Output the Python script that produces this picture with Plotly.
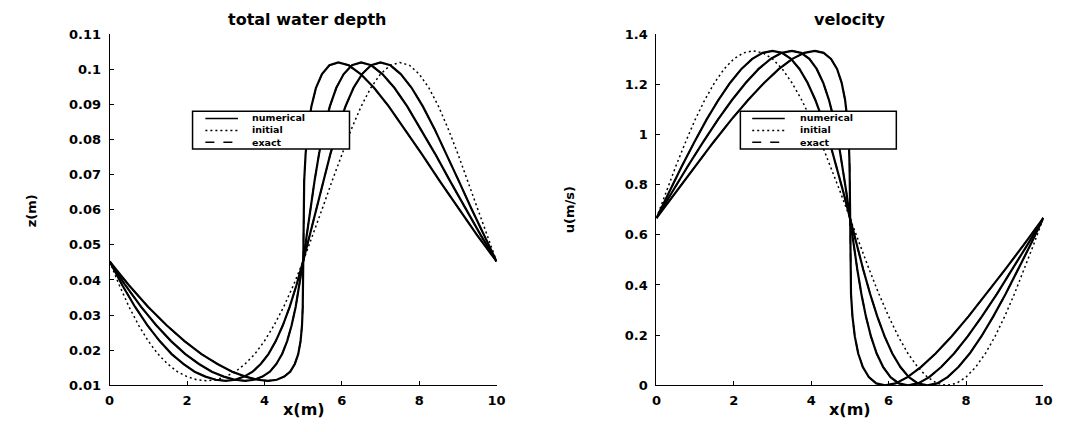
import plotly.graph_objects as go

# Positions of the sample points at t = 0 (also the x of the initial profile)
x_initial = [0.0, 0.25, 0.5, 0.75, 1.0, 1.25, 1.5, 1.75, 2.0, 2.25, 2.5, 2.75, 3.0, 3.25,
             3.5, 3.75, 4.0, 4.25, 4.5, 4.75, 5.0, 5.25, 5.5, 5.75, 6.0, 6.25, 6.5, 6.75,
             7.0, 7.25, 7.5, 7.75, 8.0, 8.25, 8.5, 8.75, 9.0, 9.25, 9.5, 9.75, 10.0]

# Where the same points sit at the three output times
x_t1 = [0.0, 0.328, 0.655, 0.977, 1.294, 1.604, 1.905, 2.196, 2.476, 2.744, 3.0, 3.244,
        3.476, 3.696, 3.905, 4.104, 4.294, 4.477, 4.655, 4.828, 5.0, 5.172, 5.345, 5.523,
        5.706, 5.896, 6.095, 6.304, 6.524, 6.756, 7.0, 7.256, 7.524, 7.804, 8.095, 8.396,
        8.706, 9.023, 9.345, 9.672, 10.0]
x_t2 = [0.0, 0.406, 0.809, 1.204, 1.588, 1.957, 2.309, 2.641, 2.951, 3.238, 3.5, 3.738,
        3.951, 4.141, 4.309, 4.457, 4.588, 4.704, 4.809, 4.906, 5.0, 5.094, 5.191, 5.296,
        5.412, 5.543, 5.691, 5.859, 6.049, 6.262, 6.5, 6.762, 7.049, 7.359, 7.691, 8.043,
        8.412, 8.796, 9.191, 9.594, 10.0]
x_t3 = [0.0, 0.499, 0.991, 1.472, 1.935, 2.374, 2.786, 3.167, 3.512, 3.820, 4.09, 4.320,
        4.512, 4.667, 4.786, 4.874, 4.935, 4.972, 4.991, 4.999, 5.0, 5.001, 5.009, 5.028,
        5.065, 5.126, 5.214, 5.333, 5.488, 5.680, 5.91, 6.180, 6.488, 6.833, 7.214, 7.626,
        8.065, 8.528, 9.009, 9.501, 10.0]

# Total water depth z (m) carried by each point
depth = [0.0453, 0.0385, 0.0324, 0.0271, 0.0226, 0.0189, 0.0161, 0.0139, 0.0125, 0.0116,
         0.0113, 0.0116, 0.0125, 0.0139, 0.0161, 0.0189, 0.0226, 0.0271, 0.0324, 0.0385,
         0.0453, 0.0527, 0.0604, 0.0682, 0.0759, 0.0830, 0.0894, 0.0947, 0.0986, 0.1011,
         0.1019, 0.1011, 0.0986, 0.0947, 0.0894, 0.0830, 0.0759, 0.0682, 0.0604, 0.0527,
         0.0453]

# Velocity u (m/s) carried by each point
velocity = [0.667, 0.771, 0.873, 0.969, 1.059, 1.138, 1.206, 1.261, 1.301, 1.325, 1.333,
            1.325, 1.301, 1.261, 1.206, 1.138, 1.059, 0.969, 0.873, 0.771, 0.667, 0.562,
            0.461, 0.364, 0.275, 0.195, 0.127, 0.073, 0.033, 0.008, 0.000, 0.008, 0.033,
            0.073, 0.127, 0.195, 0.275, 0.364, 0.461, 0.562, 0.667]

x_ticks = [0, 2, 4, 6, 8, 10]
z_ticks = [0.01, 0.02, 0.03, 0.04, 0.05, 0.06, 0.07, 0.08, 0.09, 0.1, 0.11]
z_labels = ["0.01", "0.02", "0.03", "0.04", "0.05", "0.06", "0.07", "0.08", "0.09",
            "0.1", "0.11"]
u_ticks = [0, 0.2, 0.4, 0.6, 0.8, 1, 1.2, 1.4]
u_labels = ["0", "0.2", "0.4", "0.6", "0.8", "1", "1.2", "1.4"]

legend_labels = ["numerical", "initial", "exact"]
legend_dashes = ["solid", "2px,3px", "dash"]

W, H = 1083, 432
FONT = "DejaVu Sans"
BLACK = "black"


def px(x):
    return x / W


def py(y):
    return 1 - y / H


fig = go.Figure()

for xa, ya, values in (("x", "y", depth), ("x2", "y2", velocity)):
    for xs in (x_t1, x_t2, x_t3):
        fig.add_trace(go.Scatter(x=xs, y=values, xaxis=xa, yaxis=ya, mode="lines",
                                 name="exact", line=dict(color=BLACK, width=1.5, dash="dash")))
    fig.add_trace(go.Scatter(x=x_initial, y=values, xaxis=xa, yaxis=ya, mode="lines",
                             name="initial", line=dict(color=BLACK, width=1.5, dash="2px,3px")))
    for xs in (x_t1, x_t2, x_t3):
        fig.add_trace(go.Scatter(x=xs, y=values, xaxis=xa, yaxis=ya, mode="lines",
                                 name="numerical", line=dict(color=BLACK, width=2.2)))

axis_common = dict(showline=True, linecolor=BLACK, linewidth=1, ticks="inside", ticklen=4,
                   tickcolor=BLACK, showgrid=False, zeroline=False, mirror=False,
                   tickfont=dict(family=FONT, size=13, color=BLACK, weight="bold"))

y_dom = [py(392), py(28)]
fig.update_layout(
    width=W, height=H,
    margin=dict(l=0, r=0, t=0, b=0),
    paper_bgcolor="white", plot_bgcolor="white",
    showlegend=False,
    xaxis=dict(domain=[px(106), px(498)], range=[0, 10], tickvals=x_ticks,
               anchor="y", ticklabelstandoff=3, **axis_common),
    yaxis=dict(domain=y_dom, range=[0.01, 0.11], tickvals=z_ticks, ticktext=z_labels,
               anchor="x", ticklabelstandoff=5, **axis_common),
    xaxis2=dict(domain=[px(660), px(1052)], range=[0, 10], tickvals=x_ticks,
                anchor="y2", ticklabelstandoff=3, **axis_common),
    yaxis2=dict(domain=y_dom, range=[0, 1.4], tickvals=u_ticks, ticktext=u_labels,
                anchor="x2", ticklabelstandoff=5, **axis_common),
)

text_font = dict(family=FONT, size=16, color=BLACK, weight="bold")
label_font = dict(family=FONT, size=16, color=BLACK, weight="bold")
side_font = dict(family=FONT, size=13, color=BLACK, weight="bold")

annotations = [
    dict(text="total water depth", x=px(306), y=py(13), font=text_font),
    dict(text="velocity", x=px(856), y=py(13), font=text_font),
    dict(text="x(m)", x=px(303), y=py(417), font=label_font),
    dict(text="x(m)", x=px(856), y=py(417), font=label_font),
    dict(text="z(m)", x=px(27), y=py(211), font=side_font, textangle=-90),
    dict(text="u(m/s)", x=px(572), y=py(210), font=side_font, textangle=-90),
]

# Hand-drawn legend boxes, one inside each panel
shapes = []
legend_font = dict(family=FONT, size=9.5, color=BLACK, weight="bold")
row_gap = 1.3 * legend_font["size"]
row_top = 115.5
for box_l, box_r, line_l, line_r, text_l in ((190, 349, 203, 236, 248),
                                             (745, 903, 757, 790, 803)):
    shapes.append(dict(type="rect", xref="paper", yref="paper",
                       x0=px(box_l), x1=px(box_r), y0=py(147), y1=py(108),
                       line=dict(color=BLACK, width=1.5), fillcolor="white", layer="above"))
    for i, dash in enumerate(legend_dashes):
        yy = row_top + row_gap * i
        shapes.append(dict(type="line", xref="paper", yref="paper",
                           x0=px(line_l), x1=px(line_r), y0=py(yy), y1=py(yy),
                           line=dict(color=BLACK, width=1.5, dash=dash), layer="above"))
    annotations.append(dict(text="<br>".join(legend_labels), x=px(text_l),
                            y=py(row_top + row_gap), xanchor="left", align="left",
                            font=legend_font))

for a in annotations:
    a.update(xref="paper", yref="paper", showarrow=False)
    a.setdefault("xanchor", "center")
    a.setdefault("yanchor", "middle")

fig.update_layout(annotations=annotations, shapes=shapes)

fig.write_html("out.html")
